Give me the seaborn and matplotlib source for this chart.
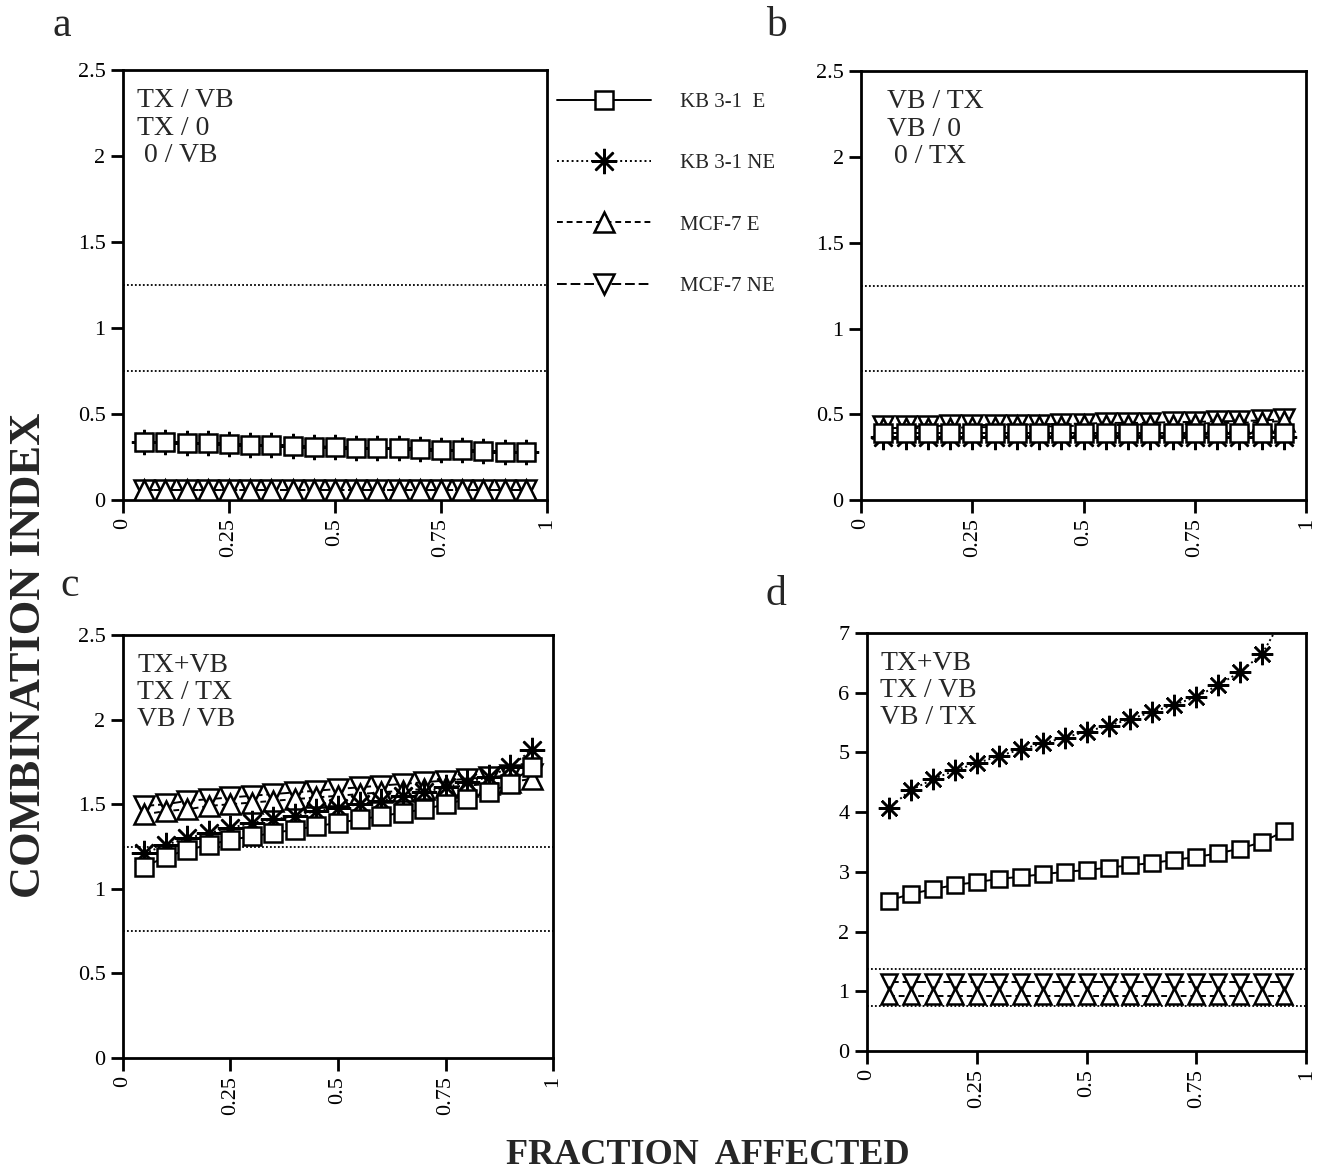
import matplotlib
matplotlib.use("Agg")
import matplotlib.pyplot as plt
from matplotlib.lines import Line2D
import seaborn as sns
import pandas as pd

sns.set_style("ticks")
plt.rcParams['font.family'] = ['Liberation Serif', 'DejaVu Serif']

# fraction affected (x) shared by all panels
fa = [0.05, 0.10, 0.15, 0.20, 0.25, 0.30, 0.35, 0.40, 0.45, 0.50,
      0.55, 0.60, 0.65, 0.70, 0.75, 0.80, 0.85, 0.90, 0.95]

series_names = ["KB 3-1  E", "KB 3-1 NE", "MCF-7 E", "MCF-7 NE"]

# panel a: TX / VB
a_kb_e = [0.34, 0.335, 0.33, 0.33, 0.325, 0.32, 0.32, 0.315, 0.31, 0.31,
          0.305, 0.30, 0.30, 0.295, 0.29, 0.29, 0.285, 0.28, 0.28]
a_kb_ne = [0.34, 0.335, 0.33, 0.33, 0.325, 0.32, 0.32, 0.315, 0.31, 0.31,
           0.305, 0.30, 0.30, 0.295, 0.29, 0.29, 0.285, 0.28, 0.28]
a_mcf_e = [0.06, 0.06, 0.06, 0.06, 0.06, 0.06, 0.06, 0.06, 0.06, 0.06,
           0.06, 0.06, 0.06, 0.06, 0.06, 0.06, 0.06, 0.06, 0.06]
a_mcf_ne = [0.06, 0.06, 0.06, 0.06, 0.06, 0.06, 0.06, 0.06, 0.06, 0.06,
            0.06, 0.06, 0.06, 0.06, 0.06, 0.06, 0.06, 0.06, 0.06]

# panel b: VB / TX
b_kb_e = [0.39, 0.39, 0.39, 0.39, 0.39, 0.39, 0.39, 0.39, 0.39, 0.39,
          0.39, 0.39, 0.39, 0.39, 0.39, 0.39, 0.39, 0.39, 0.39]
b_kb_ne = [0.37, 0.37, 0.37, 0.37, 0.37, 0.37, 0.37, 0.37, 0.37, 0.37,
           0.37, 0.37, 0.37, 0.37, 0.37, 0.37, 0.37, 0.37, 0.37]
b_mcf_e = [0.42, 0.42, 0.42, 0.42, 0.425, 0.425, 0.43, 0.43, 0.43, 0.435,
           0.435, 0.44, 0.44, 0.44, 0.445, 0.45, 0.45, 0.455, 0.46]
b_mcf_ne = [0.43, 0.43, 0.43, 0.435, 0.435, 0.44, 0.44, 0.44, 0.445, 0.445,
            0.45, 0.45, 0.45, 0.455, 0.455, 0.46, 0.46, 0.465, 0.47]

# panel c: TX+VB, TX / TX, VB / VB
c_kb_e = [1.13, 1.19, 1.23, 1.26, 1.29, 1.31, 1.33, 1.35, 1.37, 1.39,
          1.41, 1.43, 1.45, 1.47, 1.50, 1.53, 1.57, 1.62, 1.72]
c_kb_ne = [1.21, 1.26, 1.30, 1.33, 1.36, 1.39, 1.41, 1.43, 1.46, 1.48,
           1.50, 1.52, 1.55, 1.57, 1.60, 1.63, 1.66, 1.72, 1.82]
c_mcf_e = [1.44, 1.46, 1.47, 1.49, 1.50, 1.51, 1.52, 1.53, 1.54, 1.55,
           1.56, 1.57, 1.58, 1.59, 1.60, 1.61, 1.62, 1.63, 1.65]
c_mcf_ne = [1.49, 1.50, 1.52, 1.53, 1.54, 1.55, 1.56, 1.57, 1.58, 1.59,
            1.60, 1.61, 1.62, 1.63, 1.64, 1.65, 1.66, 1.67, 1.68]

# panel d: TX+VB, TX / VB, VB / TX
d_kb_e = [2.52, 2.63, 2.71, 2.78, 2.83, 2.88, 2.92, 2.96, 3.00, 3.03,
          3.07, 3.11, 3.15, 3.20, 3.25, 3.31, 3.39, 3.50, 3.68]
d_kb_ne = [4.07, 4.37, 4.55, 4.70, 4.82, 4.94, 5.05, 5.15, 5.25, 5.35,
           5.45, 5.56, 5.68, 5.80, 5.93, 6.13, 6.35, 6.65, 7.30]
d_mcf_e = [0.92, 0.92, 0.92, 0.92, 0.92, 0.92, 0.92, 0.92, 0.92, 0.92,
           0.92, 0.92, 0.92, 0.92, 0.92, 0.92, 0.92, 0.92, 0.92]
d_mcf_ne = [1.16, 1.16, 1.16, 1.16, 1.16, 1.16, 1.16, 1.16, 1.16, 1.16,
            1.16, 1.16, 1.16, 1.16, 1.16, 1.16, 1.16, 1.16, 1.16]

panels = {
    "a": dict(pos=[0.0933, 0.573, 0.3217, 0.367], ymax=2.5,
              data=[a_kb_e, a_kb_ne, a_mcf_e, a_mcf_ne],
              text="TX / VB\nTX / 0\n 0 / VB", tx=0.033,
              refs=[1.25, 0.75], ms=13),
    "b": dict(pos=[0.6533, 0.573, 0.3377, 0.366], ymax=2.5,
              data=[b_kb_e, b_kb_ne, b_mcf_e, b_mcf_ne],
              text="VB / TX\nVB / 0\n 0 / TX", tx=0.058,
              refs=[1.25, 0.75], ms=13),
    "c": dict(pos=[0.0933, 0.0965, 0.3263, 0.3612], ymax=2.5,
              data=[c_kb_e, c_kb_ne, c_mcf_e, c_mcf_ne],
              text="TX+VB\nTX / TX\nVB / VB", tx=0.033,
              refs=[1.25, 0.75], ms=13),
    "d": dict(pos=[0.6578, 0.1025, 0.3332, 0.3569], ymax=7,
              data=[d_kb_e, d_kb_ne, d_mcf_e, d_mcf_ne],
              text="TX+VB\nTX / VB\nVB / TX", tx=0.03,
              refs=[1.37, 0.75], ms=11),
}

letter_pos = {"a": (0.047, 0.978), "b": (0.589, 0.978),
              "c": (0.053, 0.5), "d": (0.589, 0.492)}

# styles per series: marker, linestyle, size factor
styles = [
    dict(marker="s", ls="-", f=1.0),
    dict(marker=(8, 2, 0), ls=(0, (1, 1.5)), f=1.4),
    dict(marker="^", ls=(0, (3, 2)), f=1.1),
    dict(marker="v", ls=(0, (5, 2)), f=1.1),
]
draw_order = [3, 2, 1, 0]

fig = plt.figure(figsize=(13.18, 11.71), dpi=100)

for key, p in panels.items():
    ax = fig.add_axes(p["pos"])
    for i in draw_order:
        st = styles[i]
        df = pd.DataFrame({"fa": fa, "ci": p["data"][i]})
        sns.lineplot(data=df, x="fa", y="ci", ax=ax, color="black",
                     linestyle=st["ls"], linewidth=1.4,
                     marker=st["marker"], markersize=p["ms"] * st["f"],
                     markerfacecolor="white", markeredgecolor="black",
                     markeredgewidth=1.8, zorder=3)
    for r in p["refs"]:
        ax.axhline(r, color="black", linestyle=(0, (1, 1.2)), linewidth=1.3, zorder=1)
    ax.set_xlim(0, 1)
    ax.set_ylim(0, p["ymax"])
    ax.set_xlabel("")
    ax.set_ylabel("")
    ax.set_xticks([0, 0.25, 0.5, 0.75, 1])
    ax.set_xticklabels(["0", "0.25", "0.5", "0.75", "1"], rotation=90)
    if p["ymax"] == 7:
        yt = [0, 1, 2, 3, 4, 5, 6, 7]
        ax.set_yticks(yt)
        ax.set_yticklabels([str(v) for v in yt])
    else:
        yt = [0, 0.5, 1, 1.5, 2, 2.5]
        ax.set_yticks(yt)
        ax.set_yticklabels(["0", "0.5", "1", "1.5", "2", "2.5"])
    ax.tick_params(axis="both", direction="out", length=9, width=2,
                   labelsize=16, color="black", labelcolor="black")
    ax.tick_params(axis="x", pad=4)
    for sp in ax.spines.values():
        sp.set_visible(True)
        sp.set_linewidth(2)
        sp.set_color("black")
    ax.text(p["tx"], 0.958, p["text"], transform=ax.transAxes, ha="left",
            va="top", fontsize=20, linespacing=1.12)
    lx, ly = letter_pos[key]
    fig.text(lx, ly, key, fontsize=30, ha="center", va="center")

handles = []
for i, st in enumerate(styles):
    handles.append(Line2D([], [], color="black", linestyle=st["ls"], linewidth=1.4,
                          marker=st["marker"], markersize=13 * st["f"],
                          markerfacecolor="white", markeredgecolor="black",
                          markeredgewidth=1.8, label=series_names[i]))
fig.legend(handles=handles, loc="upper left", bbox_to_anchor=(0.4226, 0.921),
           frameon=False, fontsize=15, handlelength=4.5, handletextpad=1.4,
           labelspacing=2.0, borderpad=0, borderaxespad=0)

fig.text(0.022, 0.44, "COMBINATION INDEX", rotation=90, fontsize=32,
         fontweight="bold", ha="center", va="center")
fig.text(0.537, 0.013, "FRACTION  AFFECTED", fontsize=26, fontweight="bold",
         ha="center", va="center")

fig.savefig("out.png", dpi=100, facecolor="white")
